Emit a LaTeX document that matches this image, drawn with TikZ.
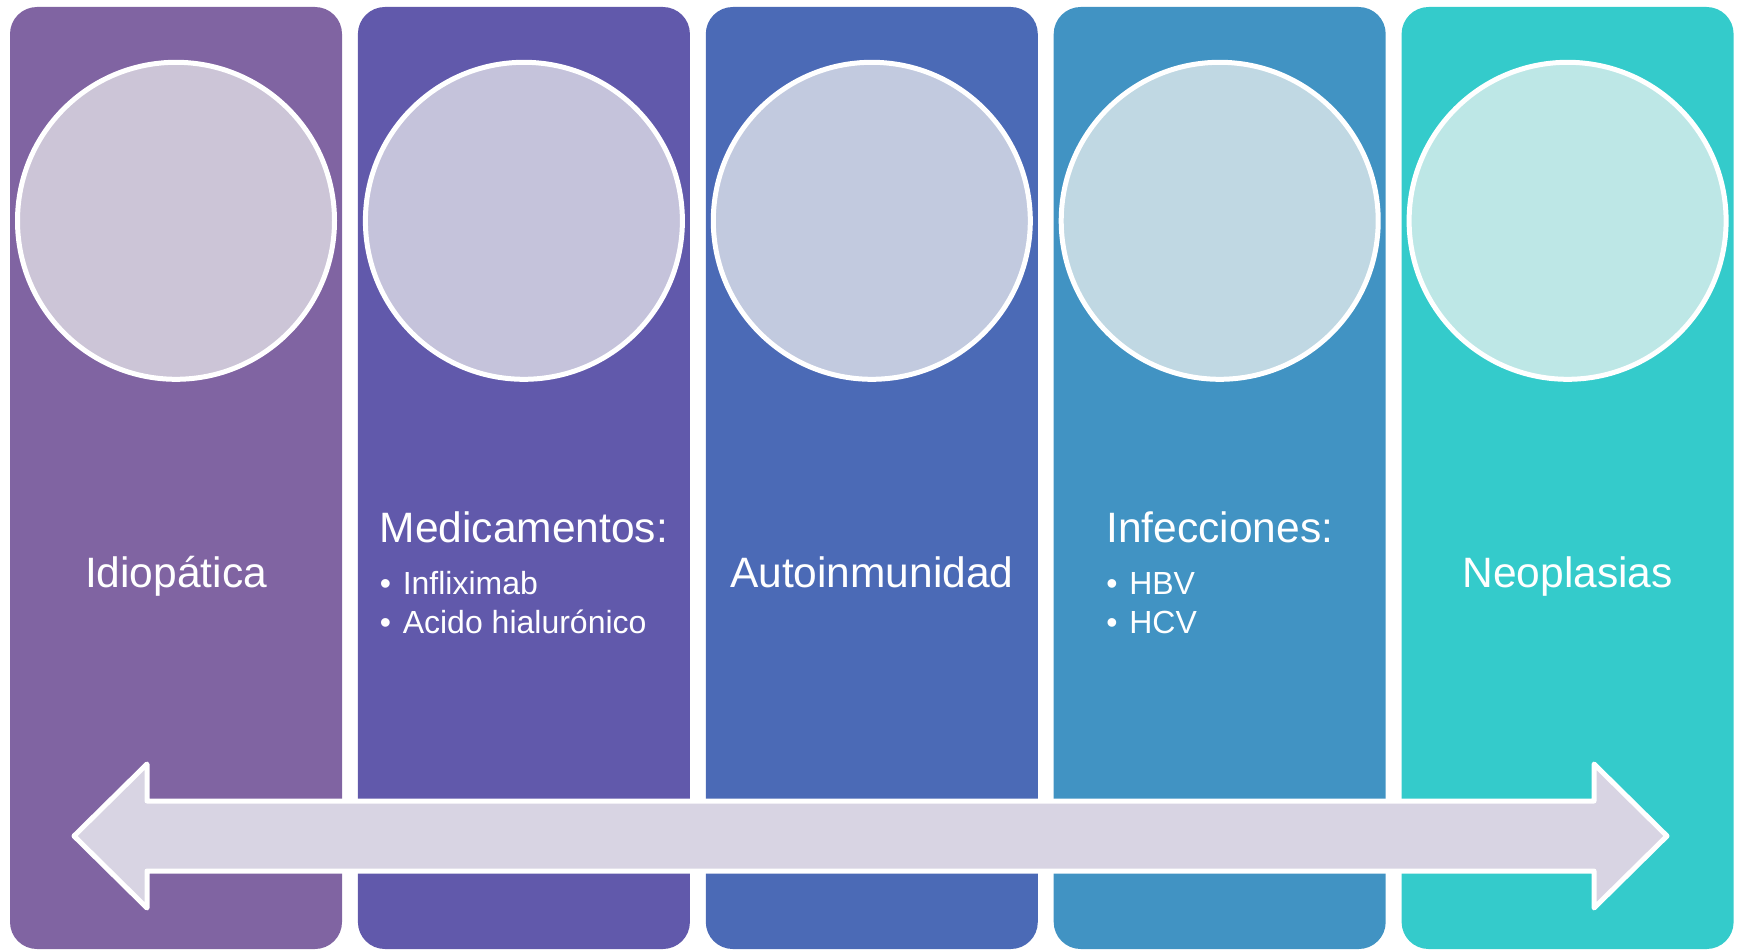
\documentclass[tikz,border=0pt]{standalone}
\usepackage{fontspec}
\setmainfont{Liberation Sans}
\usetikzlibrary{positioning,calc}

\definecolor{panelA}{HTML}{8064A2}
\definecolor{panelB}{HTML}{6159AB}
\definecolor{panelC}{HTML}{4B6AB6}
\definecolor{panelD}{HTML}{4193C3}
\definecolor{panelE}{HTML}{34CBCB}
\definecolor{discA}{HTML}{CCC5D7}
\definecolor{discB}{HTML}{C5C3DB}
\definecolor{discC}{HTML}{C2CADF}
\definecolor{discD}{HTML}{C0D8E3}
\definecolor{discE}{HTML}{BDE7E6}
\definecolor{arrowfill}{HTML}{D8D4E3}

\newcommand{\bull}{\makebox[23pt][l]{•}}

\begin{document}
\begin{tikzpicture}[x=1pt, y=-1pt, node distance=15.5pt,
  panel/.style={rectangle, rounded corners=27pt, minimum width=332pt, minimum height=942pt, inner sep=0pt},
  disc/.style={circle, draw=white, line width=5pt, minimum size=317pt, inner sep=0pt},
  title/.style={text=white, font=\fontsize{42.5}{50}\selectfont, inner sep=0pt, anchor=base},
  item/.style={text=white, font=\fontsize{32}{38}\selectfont, inner sep=0pt, anchor=base west}]

  \useasboundingbox (0,0) rectangle (1739,950);

  % Panels
  \node[panel, fill=panelA] (p1) at (176,478) {};
  \node[panel, fill=panelB, right=of p1] (p2) {};
  \node[panel, fill=panelC, right=of p2] (p3) {};
  \node[panel, fill=panelD, right=of p3] (p4) {};
  \node[panel, fill=panelE, right=of p4] (p5) {};

  % Circles
  \node[disc, fill=discA, below=53pt of p1.north] (d1) {};
  \node[disc, fill=discB, below=53pt of p2.north] (d2) {};
  \node[disc, fill=discC, below=53pt of p3.north] (d3) {};
  \node[disc, fill=discD, below=53pt of p4.north] (d4) {};
  \node[disc, fill=discE, below=53pt of p5.north] (d5) {};

  % Labels
  \node[title] (t1) at ($(p1.north)+(0,581)$) {Idiopática};
  \node[title] (t2) at ($(p2.north)+(0,536)$) {Medicamentos:};
  \node[item] (t2a) at ($(t2.base west)+(0,52)$) {\bull Infliximab};
  \node[item] (t2b) at ($(t2.base west)+(0,91)$) {\bull Acido hialurónico};
  \node[title] (t3) at ($(p3.north)+(0,581)$) {Autoinmunidad};
  \node[title] (t4) at ($(p4.north)+(0,536)$) {Infecciones:};
  \node[item] (t4a) at ($(t4.base west)+(0,52)$) {\bull HBV};
  \node[item] (t4b) at ($(t4.base west)+(0,91)$) {\bull HCV};
  \node[title] (t5) at ($(p5.north)+(0,581)$) {Neoplasias};

  % Double arrow
  \draw[white, line width=5pt, line join=round, fill=arrowfill]
    (74,836) -- (147,764) -- (147,801) -- (1594,801) -- (1594,764) -- (1667,836)
    -- (1594,908) -- (1594,871) -- (147,871) -- (147,908) -- cycle;

\end{tikzpicture}
\end{document}
